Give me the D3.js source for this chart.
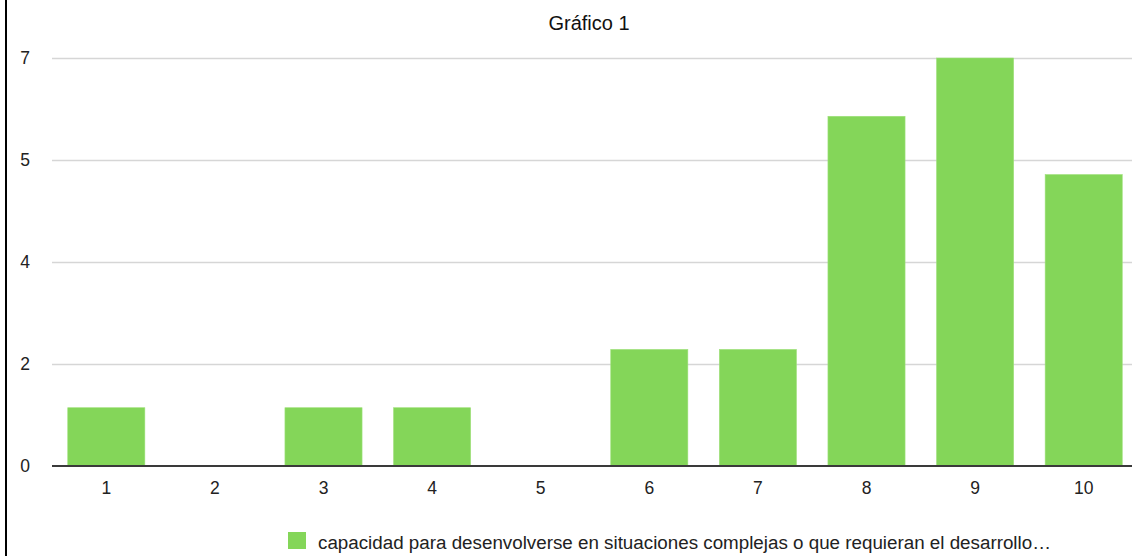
<!DOCTYPE html>
<html>
<head>
<meta charset="utf-8">
<script src="https://cdn.jsdelivr.net/npm/d3@7"></script>
<style>
  html, body { margin: 0; padding: 0; background: #fff; }
  svg { display: block; font-family: "Liberation Sans", Arial, Helvetica, sans-serif; }
</style>
</head>
<body>
<svg id="chart" width="1132" height="556"></svg>
<script>
const categories = ["1", "2", "3", "4", "5", "6", "7", "8", "9", "10"];
const values = [1, 0, 1, 1, 0, 2, 2, 6, 7, 5];
const yTickValues = [0, 1.75, 3.5, 5.25, 7];
const yTickLabels = ["0", "2", "4", "5", "7"];
const chartTitle = "Gráfico 1";
const seriesName = "capacidad para desenvolverse en situaciones complejas o que requieran el desarrollo…";

const W = 1132, H = 556;
const svg = d3.select("#chart");
const plotLeft = 52, plotRight = 1138, plotTop = 58, plotBottom = 466;

const x = d3.scaleBand().domain(categories).range([plotLeft, plotRight])
  .paddingInner(0.29).paddingOuter(0.145);
const y = d3.scaleLinear().domain([0, 7]).range([plotBottom, plotTop]);

// left border line
svg.append("rect").attr("x", 5).attr("y", 0).attr("width", 2).attr("height", H).attr("fill", "#000");

// title
svg.append("text").attr("x", 589).attr("y", 30).attr("text-anchor", "middle")
  .attr("font-size", 20).attr("fill", "#111").text(chartTitle);

// gridlines + y labels
const yAxis = d3.axisLeft(y).tickValues(yTickValues)
  .tickFormat((d, i) => yTickLabels[i]).tickSize(0).tickPadding(0);
const gy = svg.append("g").attr("transform", `translate(${plotLeft},0)`).call(yAxis);
gy.select(".domain").remove();
gy.selectAll(".tick line").remove();
gy.selectAll(".tick").filter(d => d !== 0).append("line")
  .attr("x1", 0).attr("x2", W - plotLeft).attr("stroke", "#d6d6d6").attr("stroke-width", 1.5);
gy.selectAll(".tick text").attr("x", -27).attr("text-anchor", "middle")
  .attr("font-size", 17.5).attr("fill", "#222").attr("font-family", "Liberation Sans, Arial, sans-serif");

// bars
svg.append("g").selectAll("rect").data(values).join("rect")
  .attr("x", (d, i) => x(categories[i]))
  .attr("y", d => y(d))
  .attr("width", x.bandwidth())
  .attr("height", d => y(0) - y(d))
  .attr("fill", "#84d659")
  .attr("stroke", "#9ee07a").attr("stroke-width", 0.6);

// baseline + x labels
const xAxis = d3.axisBottom(x).tickSize(0).tickPadding(16);
const gx = svg.append("g").attr("transform", `translate(0,${plotBottom})`).call(xAxis);
gx.select(".domain").remove();
gx.append("line").attr("x1", plotLeft).attr("x2", W).attr("y1", 0).attr("y2", 0)
  .attr("stroke", "#3a3a3a").attr("stroke-width", 2);
gx.selectAll(".tick text").attr("font-size", 17.5).attr("fill", "#222")
  .attr("font-family", "Liberation Sans, Arial, sans-serif");

// legend
const lg = svg.append("g");
lg.append("rect").attr("x", 288).attr("y", 532).attr("width", 18).attr("height", 17).attr("fill", "#84d659");
lg.append("text").attr("x", 318).attr("y", 549).attr("font-size", 18.8).attr("fill", "#222").text(seriesName);
</script>
</body>
</html>
